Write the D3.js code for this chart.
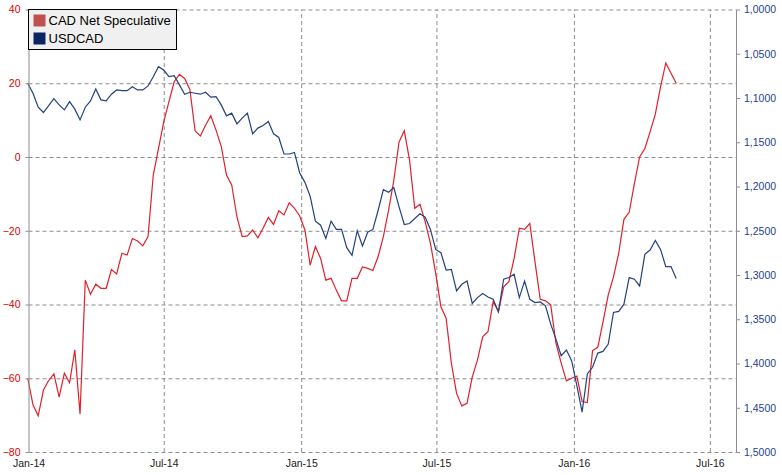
<!DOCTYPE html>
<html>
<head>
<meta charset="utf-8">
<script src="https://cdn.jsdelivr.net/npm/d3@7"></script>
<style>
  body { margin: 0; background: #fff; }
  svg { display: block; font-family: 'Liberation Sans', Arial, sans-serif; }
  .grid line { stroke: #8c8c8c; stroke-dasharray: 4,3; }
  .grid path { display: none; }
</style>
</head>
<body>
<svg id="chart" width="782" height="475"></svg>
<script>
// weekly CFTC dates, first report 31 Dec 2013
const startDate = new Date(2013, 11, 31)
const weeks = 125

// CAD net speculative positioning (thousand contracts)
const cadNetSpec = [
  -60.0, -67.2, -70.2, -63.2, -60.6, -58.8, -65.1, -58.6, -61.2, -52.3,
  -69.7, -33.4, -37.2, -34.5, -35.6, -35.6, -30.5, -31.7, -26.1, -26.6,
  -22.1, -22.8, -24.1, -21.6, -4.9, 2.3, 9.5, 15.0, 20.4, 22.4,
  21.3, 18.3, 7.1, 5.7, 8.6, 11.2, 7.3, 2.9, -4.9, -7.6,
  -16.2, -21.6, -21.4, -19.8, -21.9, -19.3, -16.4, -18.3, -14.6, -15.7,
  -12.4, -13.9, -16.0, -19.8, -29.3, -24.3, -27.5, -33.4, -32.9, -36.1,
  -39.0, -39.0, -32.9, -32.9, -29.8, -30.2, -30.8, -27.0, -21.6, -14.4,
  -6.3, 4.1, 7.1, -0.8, -13.9, -12.8, -17.6, -23.4, -31.5, -40.6,
  -43.7, -55.9, -64.1, -67.5, -66.8, -59.6, -55.0, -48.7, -47.4, -39.2,
  -41.9, -35.2, -33.8, -27.5, -19.3, -19.6, -18.0, -28.5, -38.6, -39.0,
  -40.1, -50.5, -55.9, -60.7, -60.0, -59.4, -66.3, -66.6, -52.5, -51.6,
  -44.7, -37.4, -32.5, -26.1, -16.9, -15.0, -7.2, 0.0, 2.3, 6.8,
  11.6, 19.0, 25.5, 22.7, 20.0
]

// USDCAD spot
const usdcad = [
  1.0833, 1.0946, 1.1104, 1.1164, 1.1086, 1.1007, 1.1078, 1.1134, 1.1041, 1.1126,
  1.1247, 1.1104, 1.1033, 1.0898, 1.1021, 1.1033, 1.0957, 1.0909, 1.0917, 1.0917,
  1.0872, 1.0909, 1.0909, 1.0864, 1.0759, 1.0646, 1.0684, 1.0759, 1.0748, 1.0852,
  1.0957, 1.0935, 1.0946, 1.0957, 1.0935, 1.0991, 1.0984, 1.1078, 1.1202, 1.1171,
  1.1292, 1.1227, 1.1171, 1.1404, 1.1340, 1.1311, 1.1266, 1.1404, 1.1446, 1.1633,
  1.1633, 1.1615, 1.1847, 1.1953, 1.2110, 1.2392, 1.2437, 1.2587, 1.2392, 1.2485,
  1.2485, 1.2691, 1.2778, 1.2500, 1.2673, 1.2516, 1.2485, 1.2268, 1.2035, 1.2065,
  1.2012, 1.2230, 1.2429, 1.2418, 1.2361, 1.2309, 1.2347, 1.2485, 1.2711, 1.2748,
  1.2944, 1.2936, 1.3180, 1.3105, 1.3068, 1.3322, 1.3255, 1.3209, 1.3248, 1.3274,
  1.3417, 1.3048, 1.3029, 1.2992, 1.3255, 1.3068, 1.3274, 1.3311, 1.3304, 1.3349,
  1.3555, 1.3724, 1.3912, 1.3848, 1.3968, 1.4250, 1.4550, 1.4118, 1.4043, 1.3882,
  1.3863, 1.3780, 1.3423, 1.3412, 1.3330, 1.3029, 1.3048, 1.3124, 1.2767, 1.2718,
  1.2609, 1.2711, 1.2905, 1.2905, 1.3040
]

const leftTicks = [-80, -60, -40, -20, 0, 20, 40]
const rightTicks = [1.0, 1.05, 1.1, 1.15, 1.2, 1.25, 1.3, 1.35, 1.4, 1.45, 1.5]
const dateTicks = [
  new Date(2014, 0, 1), new Date(2014, 6, 1), new Date(2015, 0, 1),
  new Date(2015, 6, 1), new Date(2016, 0, 1), new Date(2016, 6, 1)
]
const seriesNames = ['CAD Net Speculative', 'USDCAD']

const dates = d3.range(weeks).map((i) => d3.timeWeek.offset(startDate, i))

const svg = d3.select('#chart')
const plotL = 28.5, plotR = 736, plotT = 9.5, plotB = 452

const x = d3.scaleTime()
  .domain([new Date(2014, 0, 1), new Date(2016, 7, 5)])
  .range([plotL, plotR])
const yL = d3.scaleLinear().domain([-80, 40]).range([plotB, plotT])
const yR = d3.scaleLinear().domain([1.0, 1.5]).range([plotT, plotB])

// gridlines
svg.append('g')
  .attr('class', 'grid')
  .attr('transform', `translate(${plotL},0)`)
  .call(d3.axisLeft(yL).tickValues(leftTicks).tickSize(-(plotR - plotL)).tickFormat(''))

svg.append('g')
  .attr('class', 'grid')
  .attr('transform', `translate(0,${plotB})`)
  .call(d3.axisBottom(x).tickValues(dateTicks.slice(1)).tickSize(-(plotB - plotT)).tickFormat(''))

// series
svg.append('path')
  .datum(cadNetSpec)
  .attr('fill', 'none')
  .attr('stroke', '#e0202b')
  .attr('stroke-width', 1.2)
  .attr('d', d3.line().x((d, i) => x(dates[i])).y((d) => yL(d)))

svg.append('path')
  .datum(usdcad)
  .attr('fill', 'none')
  .attr('stroke', '#23427f')
  .attr('stroke-width', 1.2)
  .attr('d', d3.line().x((d, i) => x(dates[i])).y((d) => yR(d)))

// left axis
const axL = svg.append('g')
  .attr('transform', `translate(${plotL},0)`)
  .call(d3.axisLeft(yL).tickValues(leftTicks).tickSize(3).tickPadding(5).tickSizeOuter(0))
axL.select('.domain').attr('stroke', '#8c8c8c')
axL.selectAll('.tick line').attr('stroke', '#8c8c8c')
axL.selectAll('text').attr('fill', '#e00000').style('font-size', '10.5px')

// right axis
const axR = svg.append('g')
  .attr('transform', `translate(${plotR},0)`)
  .call(d3.axisRight(yR).tickValues(rightTicks).tickSize(4).tickPadding(4).tickSizeOuter(0)
    .tickFormat((d) => d3.format('.4f')(d).replace('.', ',')))
axR.select('.domain').attr('stroke', '#8c8c8c')
axR.selectAll('.tick line').attr('stroke', '#8c8c8c')
axR.selectAll('text').attr('fill', '#1f3f8c').style('font-size', '10.5px')

// date labels
const axB = svg.append('g')
  .attr('transform', `translate(0,${plotB})`)
  .call(d3.axisBottom(x).tickValues(dateTicks).tickSize(0).tickPadding(8)
    .tickFormat(d3.timeFormat('%b-%y')))
axB.select('.domain').remove()
axB.selectAll('text').attr('fill', '#1a1a1a').style('font-size', '10.5px')

// legend
const legend = svg.append('g').attr('transform', 'translate(28.5,9.5)')
legend.append('rect')
  .attr('width', 148).attr('height', 40)
  .attr('fill', '#f0f0f0').attr('stroke', '#000')
const swatch = ['#c0504d', '#0a2562']
seriesNames.forEach((name, i) => {
  legend.append('rect')
    .attr('x', 5).attr('y', 5 + i * 18)
    .attr('width', 12).attr('height', 12)
    .attr('fill', swatch[i])
  legend.append('text')
    .attr('x', 20).attr('y', 15.5 + i * 18)
    .style('font-size', '13px')
    .attr('fill', '#000')
    .text(name)
})
</script>
</body>
</html>
